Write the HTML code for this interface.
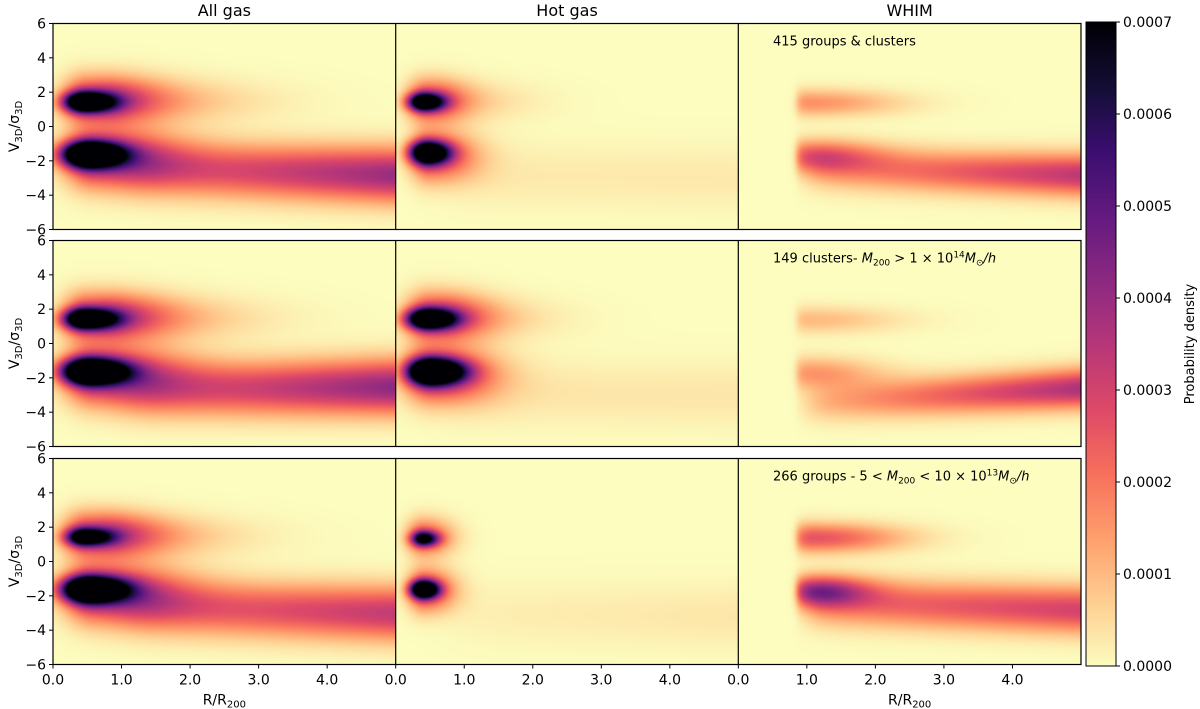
<!DOCTYPE html>
<html><head><meta charset="utf-8"><style>
body{margin:0;background:#fff;width:1200px;height:709px;overflow:hidden;position:relative;font-family:"Liberation Sans","DejaVu Sans",sans-serif;}
canvas{position:absolute;}
</style></head><body>
<svg id="ov" width="1200" height="709" style="position:absolute;left:0;top:0"></svg>
<script>
// ---- data (density units of 1e-4) ----
const colTitles=["All gas","Hot gas","WHIM"];
const xTicks=[0,1,2,3,4];
const xTickLabels=["0.0","1.0","2.0","3.0","4.0"];
const yTicks=[-6,-4,-2,0,2,4,6];
const cbTicks=[0,1,2,3,4,5,6,7];
const cbTickLabels=["0.0000","0.0001","0.0002","0.0003","0.0004","0.0005","0.0006","0.0007"];
const whimCut=[0,0,0.85];
// gaussian blobs: [x, y, sxLeft, sxRight, sy, amp]
const gauss_r1c1=[[0.45,1.45,0.2,0.3,0.4,9],[0.5,1.6,0.25,0.7,0.95,3.2],[1.0,1.5,0.3,1.3,0.9,1.2],[0.5,-1.6,0.25,0.35,0.5,11],[0.6,-1.8,0.3,0.8,1.15,3.8]];
const gauss_r1c2=[[0.4,1.45,0.15,0.2,0.35,8],[0.45,1.55,0.2,0.4,0.85,2.8],[0.8,1.5,0.3,0.8,0.8,0.7],[0.45,-1.5,0.17,0.22,0.45,9],[0.5,-1.7,0.2,0.45,1.0,3.2]];
const gauss_r1c3=[[1.05,1.4,0.3,0.9,0.55,1.6],[1.05,-1.7,0.3,0.7,0.65,2.3]];
const gauss_r2c1=[[0.45,1.45,0.2,0.32,0.4,9],[0.5,1.6,0.25,0.75,0.95,3.2],[1.0,1.5,0.3,1.3,0.9,1.2],[0.5,-1.6,0.25,0.38,0.5,11],[0.6,-1.8,0.3,0.85,1.15,3.8]];
const gauss_r2c2=[[0.45,1.45,0.2,0.28,0.4,9],[0.5,1.6,0.25,0.55,0.95,3.2],[0.9,1.5,0.3,0.9,0.85,0.9],[0.5,-1.6,0.22,0.32,0.5,11],[0.55,-1.8,0.3,0.6,1.1,3.8]];
const gauss_r2c3=[[1.05,1.4,0.3,0.9,0.55,1.0],[1.05,-1.7,0.3,0.7,0.65,1.5]];
const gauss_r3c1=[[0.45,1.45,0.18,0.28,0.35,7],[0.5,1.6,0.25,0.7,0.9,3.2],[1.0,1.5,0.3,1.2,0.85,1.1],[0.5,-1.6,0.25,0.38,0.5,11],[0.6,-1.8,0.3,0.85,1.15,3.8]];
const gauss_r3c2=[[0.4,1.35,0.12,0.15,0.3,6],[0.4,1.45,0.17,0.3,0.75,2.6],[0.4,-1.6,0.13,0.15,0.35,9],[0.42,-1.65,0.17,0.3,0.85,3.2]];
const gauss_r3c3=[[1.1,1.4,0.3,0.9,0.6,2.6],[1.1,-1.7,0.3,0.55,0.6,3.4]];
// bands: [x0, x1, y0, y1, sy, a0, a1, rise]
const band_r1c1=[[1.0,5.0,-2.4,-2.8,1.1,2.0,4.0,0.6]];
const band_r1c2=[[0.8,5.0,-2.8,-3.0,1.3,0.3,0.3,0.5]];
const band_r1c3=[[1.0,5.0,-2.4,-2.8,0.85,1.3,3.4,0.3]];
const band_r2c1=[[1.0,5.0,-2.7,-2.5,1.1,2.0,4.2,0.6]];
const band_r2c2=[[0.8,5.0,-2.8,-3.0,1.3,0.35,0.35,0.5]];
const band_r2c3=[[1.0,5.0,-3.4,-2.6,0.8,1.0,3.7,0.3]];
const band_r3c1=[[1.0,5.0,-2.6,-3.0,1.1,2.0,3.3,0.6]];
const band_r3c2=[[0.8,5.0,-3.0,-3.2,1.3,0.2,0.35,0.5]];
const band_r3c3=[[1.0,5.0,-2.3,-2.8,0.95,2.0,3.0,0.3]];
const gaussSets=[[gauss_r1c1,gauss_r1c2,gauss_r1c3],[gauss_r2c1,gauss_r2c2,gauss_r2c3],[gauss_r3c1,gauss_r3c2,gauss_r3c3]];
const bandSets=[[band_r1c1,band_r1c2,band_r1c3],[band_r2c1,band_r2c2,band_r2c3],[band_r3c1,band_r3c2,band_r3c3]];

// ---- layout ----
const colLeft=[53,395.7,738.3], colW=342.7, rowTop=[23.5,240.5,458.5], rowH=206;
const xMax=5.0, yMin=-6, yMax=6, vMax=7;
const sx=(c,x)=>colLeft[c]+x/xMax*colW;
const sy=(r,y)=>rowTop[r]+(yMax-y)/(yMax-yMin)*rowH;
const magma=[[0,0,4],[20,14,54],[59,15,112],[100,26,128],[140,41,129],[183,55,121],[222,73,104],[247,112,92],[254,159,109],[254,207,146],[252,253,191]];
function cmap(v){let t=1-Math.max(0,Math.min(1,v/vMax));let p=t*10,i=Math.min(9,Math.floor(p)),f=p-i;const a=magma[i],b=magma[i+1];return [a[0]+(b[0]-a[0])*f,a[1]+(b[1]-a[1])*f,a[2]+(b[2]-a[2])*f];}
function dens(r,c,x,y){let s=0;
 for(const g of gaussSets[r][c]){const dx=x-g[0];const w=dx<0?g[2]:g[3];s+=g[5]*Math.exp(-0.5*(dx*dx/(w*w)+(y-g[1])*(y-g[1])/(g[4]*g[4])));}
 for(const b of bandSets[r][c]){const f=Math.max(0,Math.min(1,(x-b[0])/(b[1]-b[0])));const yc=b[2]+(b[3]-b[2])*f;const a=b[5]+(b[6]-b[5])*f;const rise=1/(1+Math.exp(-(x-b[0])/(b[7]*0.4)));s+=a*rise*Math.exp(-0.5*(y-yc)*(y-yc)/(b[4]*b[4]));}
 if(whimCut[c]>0){s*=1/(1+Math.exp(-(x-whimCut[c])/0.03));}
 return s;}
const NS='http://www.w3.org/2000/svg';
const ov=document.getElementById('ov');
function sv(tag,attrs,parent){const e=document.createElementNS(NS,tag);for(const k in attrs)e.setAttribute(k,attrs[k]);(parent||ov).appendChild(e);return e;}
for(let r=0;r<3;r++)for(let c=0;c<3;c++){
 const cv=document.createElement('canvas');
 
 
 const L=Math.round(colLeft[c]),T=Math.round(rowTop[r]),W=Math.round(colLeft[c]+colW)-L,H=rowH;
 cv.width=W;cv.height=H;cv.style.left=L+'px';cv.style.top=T+'px';
 const ctx=cv.getContext('2d');const img=ctx.createImageData(W,H);
 for(let j=0;j<H;j++){const y=yMax-(j+0.5)/H*(yMax-yMin);for(let i=0;i<W;i++){const x=(i+0.5)/colW*xMax;const col=cmap(dens(r,c,x,y));const k=(j*W+i)*4;img.data[k]=col[0];img.data[k+1]=col[1];img.data[k+2]=col[2];img.data[k+3]=255;}}
 ctx.putImageData(img,0,0);
 document.body.insertBefore(cv,ov);
}
for(let r=0;r<3;r++){
 const fr=sv('rect',{x:colLeft[0],y:rowTop[r],width:colLeft[2]+colW-colLeft[0],height:rowH,fill:'none',stroke:'#000','stroke-width':1.2});
 
 for(let c=1;c<3;c++){const ln=sv('line',{x1:colLeft[c],x2:colLeft[c],y1:rowTop[r],y2:rowTop[r]+rowH,stroke:'#000','stroke-width':1.2});}
 for(const v of yTicks){const y=sy(r,v);sv('line',{x1:colLeft[0]-4,x2:colLeft[0],y1:y,y2:y,stroke:'#000'});
  const t=sv('text',{x:colLeft[0]-7,y:y+5,'text-anchor':'end','font-size':14,'font-family':'DejaVu Sans, sans-serif'});t.textContent=v<0?'\u2212'+(-v):String(v);
  }
 const yl=sv('text',{x:0,y:0,transform:`translate(19,${rowTop[r]+rowH/2}) rotate(-90)`,'text-anchor':'middle','font-size':14,'font-family':'DejaVu Sans, sans-serif'});
 yl.innerHTML='V<tspan font-size="10" dy="3">3D</tspan><tspan dy="-3">/σ</tspan><tspan font-size="10" dy="3">3D</tspan>';
 
}
for(let c=0;c<3;c++){const yb=rowTop[2]+rowH;
 xTicks.forEach((v,i)=>{const x=sx(c,v);sv('line',{x1:x,x2:x,y1:yb,y2:yb+4,stroke:'#000'});
  const t=sv('text',{x:x,y:yb+20,'text-anchor':'middle','font-size':14,'font-family':'DejaVu Sans, sans-serif'});t.textContent=xTickLabels[i];
  });
 if(c!==1){const xl=sv('text',{x:colLeft[c]+colW/2,y:yb+40,'text-anchor':'middle','font-size':14,'font-family':'DejaVu Sans, sans-serif'});
  xl.innerHTML='R/R<tspan font-size="10" dy="3">200</tspan>';}
 const tt=sv('text',{x:colLeft[c]+colW/2,y:16,'text-anchor':'middle','font-size':16,'font-family':'DejaVu Sans, sans-serif'});tt.textContent=colTitles[c];
 
}
const notes=['415 groups &amp; clusters',
 '149 clusters- <tspan font-style="italic">M</tspan><tspan font-size="9" dy="3">200</tspan><tspan dy="-3"> &gt; 1 × 10</tspan><tspan font-size="9" dy="-5">14</tspan><tspan dy="5" font-style="italic">M</tspan><tspan font-size="9" dy="3">⊙</tspan><tspan dy="-3" font-style="italic">/h</tspan>',
 '266 groups - 5 &lt; <tspan font-style="italic">M</tspan><tspan font-size="9" dy="3">200</tspan><tspan dy="-3"> &lt; 10 × 10</tspan><tspan font-size="9" dy="-5">13</tspan><tspan dy="5" font-style="italic">M</tspan><tspan font-size="9" dy="3">⊙</tspan><tspan dy="-3" font-style="italic">/h</tspan>'];
for(let r=0;r<3;r++){const t=sv('text',{x:773,y:rowTop[r]+22,'font-size':13,'font-family':'DejaVu Sans, sans-serif'});t.innerHTML=notes[r];
 }
const cbX=1086,cbY=22,cbW=30,cbH=644;
const cb=document.createElement('canvas');cb.width=cbW;cb.height=cbH;cb.style.left=cbX+'px';cb.style.top=cbY+'px';


{const ctx=cb.getContext('2d');for(let j=0;j<cbH;j++){const v=(1-(j+0.5)/cbH)*vMax;const col=cmap(v);ctx.fillStyle=`rgb(${col[0]|0},${col[1]|0},${col[2]|0})`;ctx.fillRect(0,j,cbW,1);}}
document.body.insertBefore(cb,ov);
sv('rect',{x:cbX,y:cbY,width:cbW,height:cbH,fill:'none',stroke:'#000','stroke-width':1});
cbTicks.forEach((v,i)=>{const y=cbY+cbH-v/vMax*cbH;sv('line',{x1:cbX+cbW,x2:cbX+cbW+4,y1:y,y2:y,stroke:'#000'});
 const t=sv('text',{x:cbX+cbW+7,y:y+5,'font-size':14,'font-family':'DejaVu Sans, sans-serif'});t.textContent=cbTickLabels[i];
 });
const cl=sv('text',{x:0,y:0,transform:`translate(1194,${cbY+cbH/2}) rotate(-90)`,'text-anchor':'middle','font-size':13,'font-family':'DejaVu Sans, sans-serif'});cl.textContent='Probability density';

</script>
</body></html>
